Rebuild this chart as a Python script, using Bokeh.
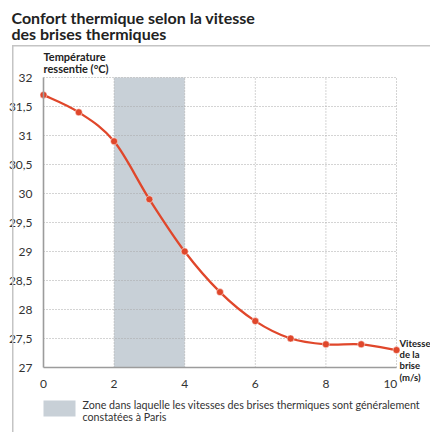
from bokeh.plotting import figure
from bokeh.models import Range1d, FixedTicker, CustomJSTickFormatter, Label, BoxAnnotation
from bokeh.embed import file_html
from bokeh.resources import INLINE

# ---- data ----
vitesse = [0, 1, 2, 3, 4, 5, 6, 7, 8, 9, 10]
temperature = [31.7, 31.4, 30.9, 29.9, 29.0, 28.3, 27.8, 27.5, 27.4, 27.4, 27.3]
zone_debut = 2
zone_fin = 4
y_ticks = [27, 27.5, 28, 28.5, 29, 29.5, 30, 30.5, 31, 31.5, 32]
x_ticks = [0, 2, 4, 6, 8, 10]

titre = ["Confort thermique selon la vitesse", "des brises thermiques"]
titre_y = ["Température", "ressentie (°C)"]
titre_x = ["Vitesse", "de la", "brise", "(m/s)"]
legende = ["Zone dans laquelle les vitesses des brises thermiques sont généralement",
           "constatées à Paris"]

RED = "#e0472b"
BAND = "#c8d0d7"
FONT = "Lato"

W, H = 430, 432
# data frame geometry (page pixels)
X0, X1 = 43, 396
Y0, Y1 = 77, 367
XMIN, XMAX = x_ticks[0], x_ticks[-1]
YMIN, YMAX = y_ticks[0], y_ticks[-1]
kx = (X1 - X0) / (XMAX - XMIN)
ky = (Y1 - Y0) / (YMAX - YMIN)
LIFT = 4  # baseline correction for labels

def dx(sx):
    return XMIN + (sx - X0) / kx

def dy(sy):
    return YMAX - (sy - Y0) / ky

p = figure(width=W, height=H, output_backend="svg", toolbar_location=None,
           x_range=Range1d(dx(0), dx(W)), y_range=Range1d(dy(H), dy(0)),
           min_border=0)
p.outline_line_color = None
p.background_fill_color = "white"
p.border_fill_color = "white"
p.grid.visible = False

# axes placed inside the frame at the data origin
for ax in (p.xaxis[0], p.yaxis[0]):
    ax.axis_line_color = "#9c9c9c"
    ax.axis_line_width = 1.6
    ax.major_tick_line_color = None
    ax.minor_tick_line_color = None
    ax.major_label_text_font = FONT
    ax.major_label_text_font_size = "12px"
    ax.major_label_text_color = "#333333"
p.yaxis.ticker = FixedTicker(ticks=y_ticks)
p.xaxis.ticker = FixedTicker(ticks=x_ticks)
p.yaxis.formatter = CustomJSTickFormatter(code="return tick.toString().replace('.', ',')")
p.xaxis.formatter = CustomJSTickFormatter(
    code="return tick == 10 ? '10' + '\\u00a0'.repeat(4) : tick.toString()")
p.yaxis.major_label_standoff = 5
p.xaxis.major_label_standoff = 2
p.yaxis.fixed_location = XMIN
p.xaxis.fixed_location = YMIN
p.yaxis.bounds = (YMIN, YMAX)
p.xaxis.bounds = (XMIN, XMAX)

# outer frame (light grey, left + top) as thin filled boxes inside the canvas
p.add_layout(BoxAnnotation(left=dx(11.5), right=dx(W - 0.2), top=dy(44.5), bottom=dy(46),
                           fill_color="#c4c4c4", fill_alpha=1, line_color=None))
p.add_layout(BoxAnnotation(left=dx(11.5), right=dx(13), top=dy(44.5), bottom=dy(H - 0.2),
                           fill_color="#c4c4c4", fill_alpha=1, line_color=None))

# band
p.quad(left=[zone_debut], right=[zone_fin], bottom=[YMIN], top=[YMAX],
       fill_color=BAND, line_color=None)

# dotted grid lines at the tick positions
hy = y_ticks[1:]
p.segment(x0=[XMIN] * len(hy), x1=[XMAX] * len(hy), y0=hy, y1=hy,
          line_color="#a8a8a8", line_dash="1 2", line_width=1)
vx = x_ticks[1:]
p.segment(x0=vx, x1=vx, y0=[YMIN] * len(vx), y1=[YMAX] * len(vx),
          line_color="#a8a8a8", line_dash="1 2", line_width=1)

# smooth curve via Catmull-Rom -> cubic bezier
n = len(vitesse)
x0s, y0s, x1s, y1s, cx0, cy0, cx1, cy1 = [], [], [], [], [], [], [], []
for i in range(n - 1):
    xa, ya = vitesse[i], temperature[i]
    xb, yb = vitesse[i + 1], temperature[i + 1]
    xp, yp = (vitesse[i - 1], temperature[i - 1]) if i > 0 else (xa, ya)
    xn, yn = (vitesse[i + 2], temperature[i + 2]) if i + 2 < n else (xb, yb)
    x0s.append(xa); y0s.append(ya); x1s.append(xb); y1s.append(yb)
    cx0.append(xa + (xb - xp) / 6); cy0.append(ya + (yb - yp) / 6)
    cx1.append(xb - (xn - xa) / 6); cy1.append(yb - (yn - ya) / 6)
p.bezier(x0=x0s, y0=y0s, x1=x1s, y1=y1s, cx0=cx0, cy0=cy0, cx1=cx1, cy1=cy1,
         line_color=RED, line_width=2.3)
p.scatter(vitesse, temperature, size=7, fill_color=RED, line_color="white",
          line_alpha=0.6, line_width=0.8)

# titles
for txt, sy in zip(titre, [21, 37]):
    p.add_layout(Label(x=dx(11), y=dy(sy - LIFT), text=txt, text_font=FONT,
                       text_font_size="16px", text_font_style="bold",
                       text_color="#222222", text_baseline="alphabetic"))
for txt, sy in zip(titre_y, [60, 72]):
    p.add_layout(Label(x=dx(43), y=dy(sy - LIFT), text=txt, text_font=FONT,
                       text_font_size="11px", text_font_style="bold",
                       text_color="#222222", text_baseline="alphabetic"))
for txt, sy in zip(titre_x, [347, 358, 369, 381]):
    p.add_layout(Label(x=dx(399), y=dy(sy - LIFT), text=txt, text_font=FONT,
                       text_font_size="9.5px", text_font_style="bold",
                       text_color="#222222", text_baseline="alphabetic"))

# legend
p.quad(left=[dx(43)], right=[dx(75)], top=[dy(400)], bottom=[dy(416)],
       fill_color=BAND, line_color=None)
for txt, sy in zip(legende, [408, 420]):
    p.add_layout(Label(x=dx(82), y=dy(sy - LIFT), text=txt, text_font=FONT,
                       text_font_size="10.7px", text_color="#333333",
                       text_baseline="alphabetic"))

open("out.html", "w").write(file_html(p, INLINE))
